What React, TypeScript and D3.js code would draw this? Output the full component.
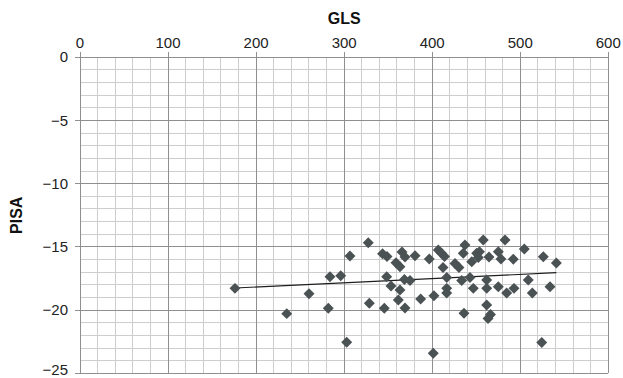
import React, { useEffect, useRef } from 'react';
import * as d3 from 'd3';

// GLS (x) vs PISA (y)
const glsValues = [
  176.0, 234.8, 260.1, 283.9, 296.1, 282.0, 302.9, 306.6, 327.4, 328.6,
  345.6, 343.6, 348.7, 348.3, 353.2, 358.9, 363.4, 365.7, 369.1, 363.4,
  361.5, 369.1, 368.5, 374.8, 380.5, 386.9, 396.7, 402.0, 401.2, 406.9,
  410.6, 414.0, 412.3, 416.5, 416.5, 416.5, 425.9, 430.4, 433.5, 436.1,
  437.2, 435.3, 442.9, 444.9, 446.7, 450.5, 453.7, 452.4, 458.0, 461.9,
  461.9, 464.5, 461.9, 466.2, 463.4, 475.1, 478.1, 475.1, 482.7, 484.6,
  492.1, 492.9, 504.6, 509.1, 513.7, 524.4, 526.2, 533.8, 541.0,
];
const pisaValues = [
  -18.28, -20.28, -18.7, -17.36, -17.28, -19.86, -22.55, -15.72, -14.67, -19.46,
  -19.86, -15.54, -15.76, -17.36, -18.09, -16.25, -16.57, -15.4, -15.8, -18.41,
  -19.2, -19.83, -17.58, -17.66, -15.7, -19.12, -15.96, -18.86, -23.42, -15.25,
  -15.51, -15.76, -16.63, -17.42, -18.28, -18.65, -16.31, -16.63, -17.66, -20.25,
  -14.85, -15.51, -17.42, -16.17, -18.28, -15.51, -15.38, -15.84, -14.45, -17.62,
  -18.28, -15.8, -19.6, -20.35, -20.66, -15.38, -15.96, -18.15, -14.45, -18.65,
  -15.97, -18.28, -15.17, -17.62, -18.65, -22.56, -15.78, -18.15, -16.27,
];

// trend line end points
const trendX = [176, 541];
const trendY = [-18.25, -17.04];

const xTicks = [0, 100, 200, 300, 400, 500, 600];
const yTicks = [0, -5, -10, -15, -20, -25];

const W = 623;
const H = 378;

const App = () => {
  const svgRef = useRef<SVGSVGElement>(null);

  useEffect(() => {
    const svg = d3.select(svgRef.current);
    svg.selectAll('*').remove();

    const x = d3.scaleLinear().domain([0, 600]).range([80, 608.3]);
    const y = d3.scaleLinear().domain([0, -25]).range([57.3, 373.3]);
    const font = 'Liberation Sans, Arial, sans-serif';

    // minor grid
    const g = svg.append('g').attr('shape-rendering', 'crispEdges');
    g.selectAll('.vminor')
      .data(d3.range(0, 601, 20).filter(v => v % 100 !== 0))
      .enter().append('line')
      .attr('x1', d => x(d)).attr('x2', d => x(d))
      .attr('y1', y(0)).attr('y2', y(-25))
      .attr('stroke', '#cdcdcd');
    g.selectAll('.hminor')
      .data(d3.range(0, -26, -1).filter(v => v % 5 !== 0))
      .enter().append('line')
      .attr('x1', x(0)).attr('x2', x(600))
      .attr('y1', d => y(d)).attr('y2', d => y(d))
      .attr('stroke', '#cdcdcd');

    // major grid + ticks sticking out
    g.selectAll('.vmajor')
      .data(xTicks)
      .enter().append('line')
      .attr('x1', d => x(d)).attr('x2', d => x(d))
      .attr('y1', y(0) - 5).attr('y2', y(-25))
      .attr('stroke', '#8f8f8f');
    g.selectAll('.hmajor')
      .data(yTicks)
      .enter().append('line')
      .attr('x1', x(0) - 5).attr('x2', x(600))
      .attr('y1', d => y(d)).attr('y2', d => y(d))
      .attr('stroke', '#8f8f8f');

    // tick labels
    svg.selectAll('.xlabel')
      .data(xTicks)
      .enter().append('text')
      .attr('x', d => x(d))
      .attr('y', y(0) - 9)
      .attr('text-anchor', 'middle')
      .attr('font-family', font)
      .attr('font-size', 15)
      .attr('fill', '#222')
      .text(d => d);
    svg.selectAll('.ylabel')
      .data(yTicks)
      .enter().append('text')
      .attr('x', x(0) - 12)
      .attr('y', d => Math.min(y(d) + 5, H - 3)) // keep -25 inside the frame
      .attr('text-anchor', 'end')
      .attr('font-family', font)
      .attr('font-size', 15)
      .attr('fill', '#222')
      .text(d => (d < 0 ? '\u2212' + Math.abs(d) : String(d)));

    // axis titles
    svg.append('text')
      .attr('x', (x(0) + x(600)) / 2)
      .attr('y', 24)
      .attr('text-anchor', 'middle')
      .attr('font-family', font)
      .attr('font-size', 16)
      .attr('font-weight', 'bold')
      .attr('fill', '#111')
      .text('GLS');
    svg.append('text')
      .attr('transform', `translate(22,${(y(0) + y(-25)) / 2}) rotate(-90)`)
      .attr('text-anchor', 'middle')
      .attr('font-family', font)
      .attr('font-size', 16)
      .attr('font-weight', 'bold')
      .attr('fill', '#111')
      .text('PISA');

    // trend line
    svg.append('line')
      .attr('x1', x(trendX[0])).attr('y1', y(trendY[0]))
      .attr('x2', x(trendX[1])).attr('y2', y(trendY[1]))
      .attr('stroke', '#1e1e1e')
      .attr('stroke-width', 1.2);

    // points
    const diamond = d3.symbol().type(d3.symbolSquare).size(60);
    svg.selectAll('.pt')
      .data(glsValues.map((v, i) => [v, pisaValues[i]]))
      .enter().append('path')
      .attr('d', diamond)
      .attr('transform', d => `translate(${x(d[0])},${y(d[1])}) rotate(45)`)
      .attr('fill', '#4b5254');
  }, []);

  return (
    <svg ref={svgRef} width={W} height={H}
      style={{ position: 'absolute', left: 0, top: 0, background: '#fff' }} />
  );
};

export default App;
